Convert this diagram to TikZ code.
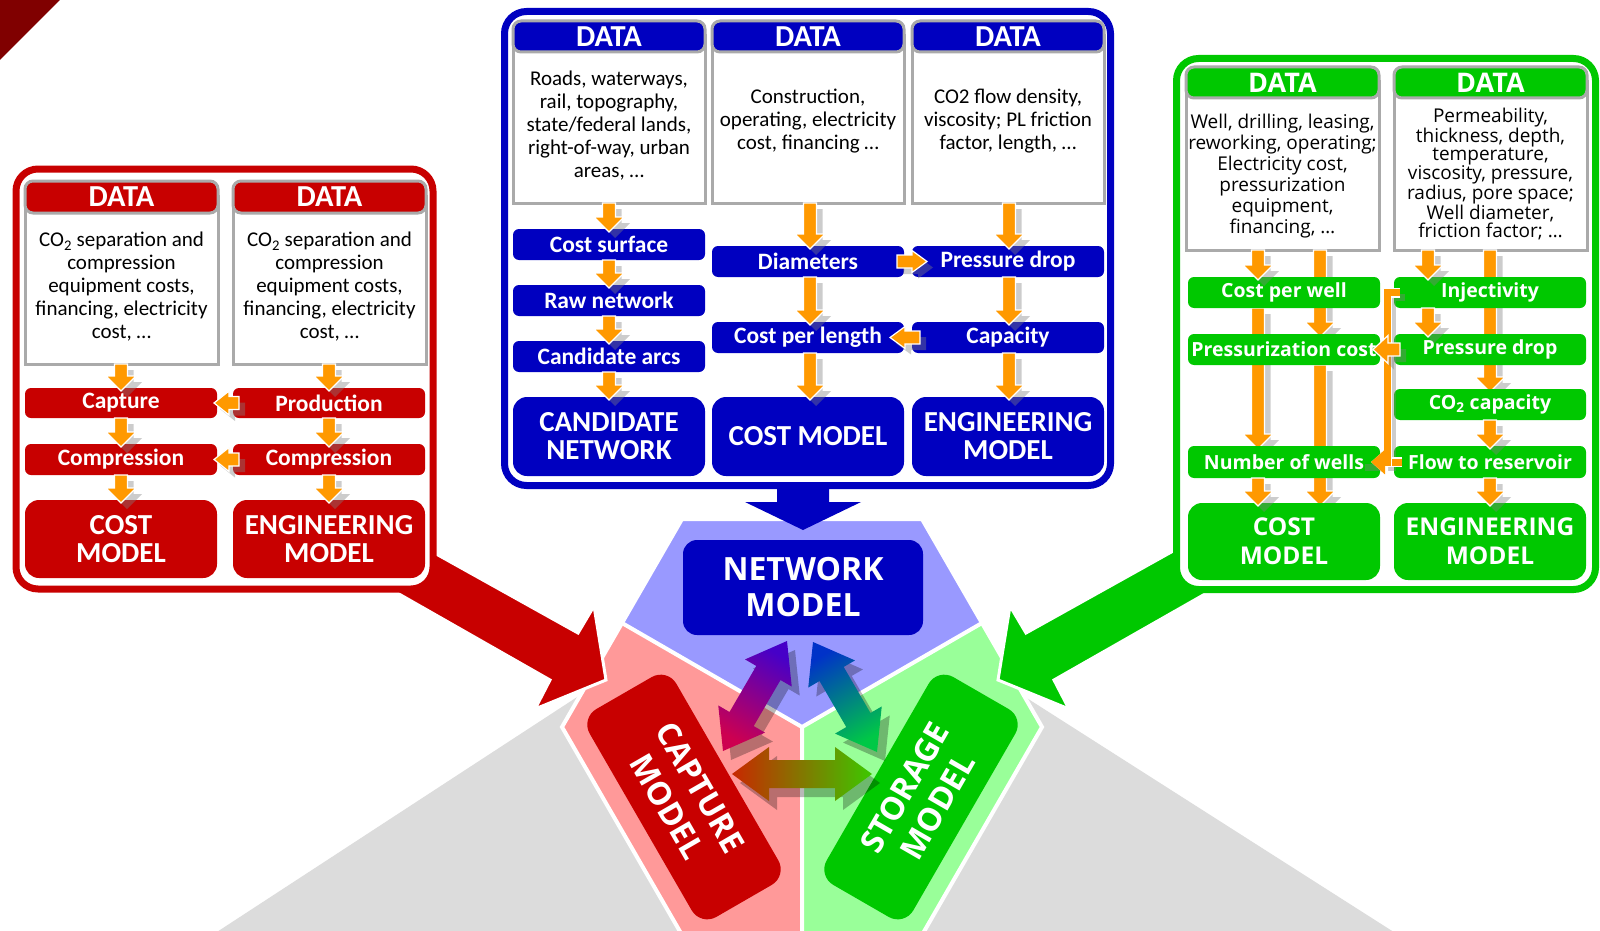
\documentclass[tikz,border=0pt]{standalone}
\usepackage{fontspec}
\setmainfont{Carlito}
\newfontfamily\osans{Open Sans}
\usetikzlibrary{calc,arrows.meta}
\pgfdeclarelayer{over}
\pgfdeclarelayer{top}
\pgfsetlayers{main,over,top}
\definecolor{cred}{RGB}{200,0,0}
\definecolor{cblue}{RGB}{0,0,192}
\definecolor{cgreen}{RGB}{0,200,0}
\definecolor{corange}{RGB}{255,153,0}
\definecolor{cborder}{RGB}{170,170,170}
\definecolor{cdark}{RGB}{128,0,0}
\definecolor{hexblue}{RGB}{153,153,255}
\definecolor{hexred}{RGB}{255,153,153}
\definecolor{hexgreen}{RGB}{153,255,153}
\definecolor{cgray}{RGB}{220,220,220}
\definecolor{gviolet}{RGB}{70,0,200}
\definecolor{gcrimson}{RGB}{205,0,80}
\definecolor{gblue}{RGB}{0,50,200}
\definecolor{ggreen}{RGB}{0,200,70}
\definecolor{gbrown}{RGB}{200,40,0}
\definecolor{glime}{RGB}{60,200,0}
\tikzset{
  panelbox/.style={draw=#1, line width=7pt, fill=white, rounded corners=22pt, inner sep=0pt, outer sep=0pt},
  dbody/.style={draw=cborder, line width=3pt, fill=white, inner sep=0pt, outer sep=0pt},
  dhead/.style={draw=cborder, line width=3pt, fill=#1, rounded corners=8pt, text=white, inner sep=0pt, outer sep=0pt},
  barbox/.style={fill=#1, rounded corners=6pt, text=white, inner sep=0pt, outer sep=0pt, align=center},
  modelbox/.style={fill=#1, rounded corners=14pt, text=white, inner sep=0pt, outer sep=0pt, align=center},
  cfhead/.style={font=\fontsize{30.5}{32}\selectfont\bfseries},
  cfdata/.style={font=\fontsize{21}{23}\selectfont, align=center, inner sep=0pt},
  cfbar/.style={font=\fontsize{23.5}{26}\selectfont\bfseries},
  cfmodel/.style={font=\fontsize{29}{28}\selectfont\bfseries},
  ofhead/.style={font=\osans\fontsize{27}{29}\selectfont\bfseries},
  ofdata/.style={font=\osans\fontsize{19}{21}\selectfont, align=center, inner sep=0pt},
  ofdatatight/.style={font=\osans\fontsize{19}{18}\selectfont, align=center, inner sep=0pt},
  ofbar/.style={font=\osans\fontsize{19.5}{22}\selectfont\bfseries},
  ofmodel/.style={font=\osans\fontsize{24.5}{29}\selectfont\bfseries},
  obig/.style={font=\osans\fontsize{32}{36}\selectfont\bfseries},
  obigb/.style={font=\osans\fontsize{32}{38}\selectfont\bfseries},
  oarrow/.style={fill=corange, draw=white, line width=1.2pt},
  oshadow/.style={fill=black!50, opacity=0.4, transform canvas={shift={(6,6)}}},
}
\newcommand\mybox[7]{\node[#2, minimum width={(#5)-(#3)}, minimum height={(#6)-(#4)}] (#1) at ({((#3)+(#5))/2},{((#4)+(#6))/2}) {#7};}
\newcommand\oarr[3]{%
  \path #1 coordinate (oA) #2 coordinate (oBx);
  \path ($(oBx)!-3pt!(oA)$) coordinate (oB);
  \path ($(oB)!15pt!(oA)$) coordinate (oH);
  \fill[oshadow] ($(oA)!6.5pt!90:(oB)$) -- ($(oH)!6.5pt!-90:(oA)$) -- ($(oH)!#3pt!-90:(oA)$) -- (oB) -- ($(oH)!#3pt!90:(oA)$) -- ($(oH)!6.5pt!90:(oA)$) -- ($(oA)!6.5pt!-90:(oB)$) -- cycle;
  \filldraw[oarrow] ($(oA)!6.5pt!90:(oB)$) -- ($(oH)!6.5pt!-90:(oA)$) -- ($(oH)!#3pt!-90:(oA)$) -- (oB) -- ($(oH)!#3pt!90:(oA)$) -- ($(oH)!6.5pt!90:(oA)$) -- ($(oA)!6.5pt!-90:(oB)$) -- cycle;
}
\newcommand\dblprep[3]{\path #2 coordinate (#1P) #3 coordinate (#1Q); \path ($(#1P)!37pt!(#1Q)$) coordinate (#1A) ($(#1Q)!37pt!(#1P)$) coordinate (#1B);}
\newcommand\dblarr[2]{\path[#2] (#1P) -- ($(#1A)!27pt!-90:(#1Q)$) -- ($(#1A)!14pt!-90:(#1Q)$) -- ($(#1B)!14pt!90:(#1P)$) -- ($(#1B)!27pt!90:(#1P)$) -- (#1Q) -- ($(#1B)!27pt!-90:(#1P)$) -- ($(#1B)!14pt!-90:(#1P)$) -- ($(#1A)!14pt!90:(#1Q)$) -- ($(#1A)!27pt!90:(#1Q)$) -- cycle;}
\begin{document}
\begin{tikzpicture}[x=1pt,y=-1pt]
\useasboundingbox (0,0) rectangle (1600,931);
\clip (0,0) rectangle (1600,931);
% corner
\fill[cdark] (0,0) -- (60,0) -- (0,60) -- cycle;
% gray triangles
\fill[cgray] (640,656) -- (200,943) -- (720,943) -- cycle;
\fill[cgray] (964,658) -- (1411,943) -- (900,943) -- cycle;
% hexagon
\fill[hexblue] (802,727) -- (622,623) -- (682,519) -- (922,519) -- (982,623) -- cycle;
\fill[hexred] (802,727) -- (622,623) -- (562,727) -- (682,935) -- (802,935) -- cycle;
\fill[hexgreen] (802,727) -- (982,623) -- (1042,727) -- (922,935) -- (802,935) -- cycle;
\draw[white, line width=4pt] (622,623) -- (802,727) -- (982,623) (802,727) -- (802,935);
\draw[white, line width=4pt] (682,519) -- (922,519) -- (1042,727) -- (922,935) -- (682,935) -- (562,727) -- cycle;
% big arrows
\filldraw[fill=cred, draw=white, line width=3pt] (316,487) -- (578,633) -- (594,606) -- (606,680) -- (535,709) -- (550,680) -- (269,520) -- cycle;
\filldraw[fill=cgreen, draw=white, line width=3pt] (1288,487) -- (1026,633) -- (1010,606) -- (998,680) -- (1069,709) -- (1054,680) -- (1335,520) -- cycle;
\fill[cblue] (777,470) -- (777,502) -- (745,502) -- (803,530) -- (861,502) -- (829,502) -- (829,470) -- cycle;

% ===== red panel
\mybox{rpan}{panelbox=cred}{16}{169}{433}{589}{}
\mybox{rb1}{dbody}{25}{196}{218}{364}{}
\mybox{rh1}{dhead=cred, cfhead}{25}{181}{218}{213}{DATA}
\node[cfdata] (rt1) at (121.5,287) {CO\textsubscript{2} separation and\\compression\\equipment costs,\\financing, electricity\\cost, …};
\mybox{rb2}{dbody}{233}{196}{426}{364}{}
\mybox{rh2}{dhead=cred, cfhead}{233}{181}{426}{213}{DATA}
\node[cfdata] (rt2) at (329.5,287) {CO\textsubscript{2} separation and\\compression\\equipment costs,\\financing, electricity\\cost, …};
\mybox{rcap}{barbox=cred, cfbar}{25}{388}{217}{418}{Capture}
\mybox{rprod}{barbox=cred, cfbar}{233}{388}{425}{418}{Production}
\mybox{rcmp1}{barbox=cred, cfbar}{25}{444}{217}{475}{Compression}
\mybox{rcmp2}{barbox=cred, cfbar}{233}{444}{425}{475}{Compression}
\mybox{rcost}{modelbox=cred, cfmodel}{25}{500}{217}{578}{COST\\MODEL}
\mybox{reng}{modelbox=cred, cfmodel}{233}{500}{425}{578}{ENGINEERING\\MODEL}
\oarr{(121,0 |- rb1.south)}{(121,0 |- rcap.north)}{15}
\oarr{(121,0 |- rcap.south)}{(121,0 |- rcmp1.north)}{15}
\oarr{(121,0 |- rcmp1.south)}{(121,0 |- rcost.north)}{15}
\oarr{(329,0 |- rb2.south)}{(329,0 |- rprod.north)}{15}
\oarr{(329,0 |- rprod.south)}{(329,0 |- rcmp2.north)}{15}
\oarr{(329,0 |- rcmp2.south)}{(329,0 |- reng.north)}{15}
\oarr{([xshift=6pt]rprod.west)}{(rcap.east)}{12}
\oarr{([xshift=6pt]rcmp2.west)}{(rcmp1.east)}{12}

% ===== blue panel
\mybox{bpan}{panelbox=cblue}{504.5}{11.5}{1110.5}{485.5}{}
\mybox{bb1}{dbody}{513}{36}{705}{203}{}
\mybox{bh1}{dhead=cblue, cfhead}{513}{21}{705}{52}{DATA}
\mybox{bb2}{dbody}{712}{36}{904}{203}{}
\mybox{bh2}{dhead=cblue, cfhead}{712}{21}{904}{52}{DATA}
\mybox{bb3}{dbody}{912}{36}{1104}{203}{}
\mybox{bh3}{dhead=cblue, cfhead}{912}{21}{1104}{52}{DATA}
\node[cfdata] (bt1) at (609,126) {Roads, waterways,\\rail, topography,\\state/federal lands,\\right-of-way, urban\\areas, …};
\node[cfdata] (bt2) at (808,121) {Construction,\\operating, electricity\\cost, financing …};
\node[cfdata] (bt3) at (1008,121) {CO2 flow density,\\viscosity; PL friction\\factor, length, …};
\mybox{bcs}{barbox=cblue, cfbar}{513}{229}{705}{260}{Cost surface}
\mybox{brn}{barbox=cblue, cfbar}{513}{285}{705}{316}{Raw network}
\mybox{bca}{barbox=cblue, cfbar}{513}{341}{705}{372}{Candidate arcs}
\mybox{bcn}{modelbox=cblue, cfmodel}{513}{397}{705}{476}{CANDIDATE\\NETWORK}
\mybox{bdia}{barbox=cblue, cfbar}{712}{246}{904}{277}{Diameters}
\mybox{bpd}{barbox=cblue, cfbar}{912}{246}{1104}{277}{Pressure drop}
\mybox{bcpl}{barbox=cblue, cfbar}{712}{322}{904}{353}{Cost per length}
\mybox{bcap}{barbox=cblue, cfbar}{912}{322}{1104}{353}{Capacity}
\mybox{bcm}{modelbox=cblue, cfmodel}{712}{397}{904}{476}{COST MODEL}
\mybox{bem}{modelbox=cblue, cfmodel}{912}{397}{1104}{476}{ENGINEERING\\MODEL}
\oarr{(609,0 |- bb1.south)}{(609,0 |- bcs.north)}{15}
\oarr{(609,0 |- bcs.south)}{(609,0 |- brn.north)}{15}
\oarr{(609,0 |- brn.south)}{(609,0 |- bca.north)}{15}
\oarr{(609,0 |- bca.south)}{(609,0 |- bcn.north)}{15}
\oarr{(810,0 |- bb2.south)}{(810,0 |- bdia.north)}{15}
\oarr{(810,0 |- bdia.south)}{(810,0 |- bcpl.north)}{15}
\oarr{(810,0 |- bcpl.south)}{(810,0 |- bcm.north)}{15}
\oarr{(1009,0 |- bb3.south)}{(1009,0 |- bpd.north)}{15}
\oarr{(1009,0 |- bpd.south)}{(1009,0 |- bcap.north)}{15}
\oarr{(1009,0 |- bcap.south)}{(1009,0 |- bem.north)}{15}
\oarr{([xshift=-7pt]bdia.east)}{([xshift=12pt]bpd.west)}{11}
\oarr{([xshift=8pt]bcap.west)}{([xshift=-11pt]bcpl.east)}{11}

% ===== green panel
\mybox{gpan}{panelbox=cgreen}{1176.5}{58.5}{1595.5}{589.5}{}
\mybox{gb1}{dbody}{1186}{82}{1379}{250}{}
\mybox{gh1}{dhead=cgreen, ofhead}{1186}{67}{1379}{98}{DATA}
\mybox{gb2}{dbody}{1394}{82}{1587}{250}{}
\mybox{gh2}{dhead=cgreen, ofhead}{1394}{67}{1587}{98}{DATA}
\node[ofdata] (gt1) at (1282.5,176) {Well, drilling, leasing,\\reworking, operating;\\Electricity cost,\\pressurization\\equipment,\\financing, …};
\node[ofdatatight] (gt2) at (1490.5,174) {Permeability,\\thickness, depth,\\temperature,\\viscosity, pressure,\\radius, pore space;\\Well diameter,\\friction factor; …};
\begin{pgfonlayer}{top}
\mybox{gcpw}{barbox=cgreen, ofbar}{1188}{277}{1380}{308}{Cost per well}
\mybox{ginj}{barbox=cgreen, ofbar}{1394}{277}{1586}{308}{Injectivity}
\mybox{gpc}{barbox=cgreen, ofbar}{1188}{334}{1380}{365}{Pressurization cost}
\mybox{gpd}{barbox=cgreen, ofbar}{1394}{334}{1586}{365}{Pressure drop}
\mybox{gco2}{barbox=cgreen, ofbar}{1394}{389}{1586}{420}{CO\textsubscript{2} capacity}
\mybox{gnw}{barbox=cgreen, ofbar}{1188}{446}{1380}{478}{Number of wells}
\mybox{gfr}{barbox=cgreen, ofbar}{1394}{446}{1586}{478}{Flow to reservoir}
\mybox{gcm}{modelbox=cgreen, ofmodel}{1188}{503}{1380}{580}{COST\\MODEL}
\mybox{gem}{modelbox=cgreen, ofmodel}{1394}{503}{1586}{580}{ENGINEERING\\MODEL}
% elbow connector
\draw[black!50, opacity=0.4, line width=7pt, transform canvas={shift={(5,5)}}] ([xshift=6pt]ginj.west) -- ([xshift=-7pt]ginj.west) |- ([xshift=-20pt]gnw.east);
\draw[white, line width=10pt] ([xshift=8pt]gfr.west) -- ([xshift=-7pt]gfr.west);
\draw[corange, line width=7pt] ([xshift=8pt]gfr.west) -- ([xshift=-7pt]gfr.west);
\draw[white, line width=10pt, -{Triangle[length=17pt,width=29pt]}] ([xshift=6pt]ginj.west) -- ([xshift=-7pt]ginj.west) |- ([xshift=-9pt]gnw.east);
\draw[corange, line width=7pt, -{Triangle[length=14pt,width=24pt]}] ([xshift=6pt]ginj.west) -- ([xshift=-7pt]ginj.west) |- ([xshift=-9pt]gnw.east);
\oarr{(1258,0 |- gb1.south)}{(1258,0 |- gcpw.north)}{15}
\oarr{(1258,0 |- gnw.south)}{(1258,0 |- gcm.north)}{15}
\oarr{(1428,0 |- gb2.south)}{(1428,0 |- ginj.north)}{15}
\oarr{(1428,0 |- ginj.south)}{(1428,0 |- gpd.north)}{15}
\oarr{(1490,0 |- gco2.south)}{(1490,0 |- gfr.north)}{15}
\oarr{(1490,0 |- gfr.south)}{(1490,0 |- gem.north)}{15}
\oarr{([xshift=6pt]gpd.west)}{([xshift=-4pt]gpc.east)}{14}
\end{pgfonlayer}
% long arrows run behind the bars
\begin{pgfonlayer}{over}
\oarr{(1320,0 |- gb1.south)}{(1320,0 |- gpc.north)}{15}
\oarr{(1258,0 |- gcpw.south)}{(1258,0 |- gnw.north)}{15}
\oarr{(1320,0 |- gpc.south)}{(1320,0 |- gcm.north)}{15}
\oarr{(1490,0 |- gb2.south)}{(1490,0 |- gco2.north)}{15}
\end{pgfonlayer}

% ===== central models
\mybox{nm}{modelbox=cblue, obig}{683}{540}{923}{635}{NETWORK\\MODEL}
\node[modelbox=cred, obigb, rounded corners=18pt, minimum width=240, minimum height=100, rotate=-60] (capm) at (684,797) {CAPTURE\\MODEL};
\node[modelbox=cgreen, obigb, rounded corners=18pt, minimum width=240, minimum height=100, rotate=60] (stom) at (921,797) {STORAGE\\MODEL};
% gradient double arrows
\dblprep{L}{(723,751)}{(787,641)}
\dblprep{R}{(813,642)}{(877,752)}
\dblprep{H}{(732,774)}{(872,774)}
\dblarr{L}{fill=black, opacity=0.28, transform canvas={shift={(8,9)}}}
\dblarr{R}{fill=black, opacity=0.28, transform canvas={shift={(8,9)}}}
\dblarr{H}{fill=black, opacity=0.28, transform canvas={shift={(8,9)}}}
\dblarr{L}{shade, top color=gviolet, bottom color=gcrimson, shading angle=-30}
\dblarr{R}{shade, top color=gblue, bottom color=ggreen, shading angle=30}
\dblarr{H}{shade, left color=gbrown, right color=glime}
\end{tikzpicture}
\end{document}
